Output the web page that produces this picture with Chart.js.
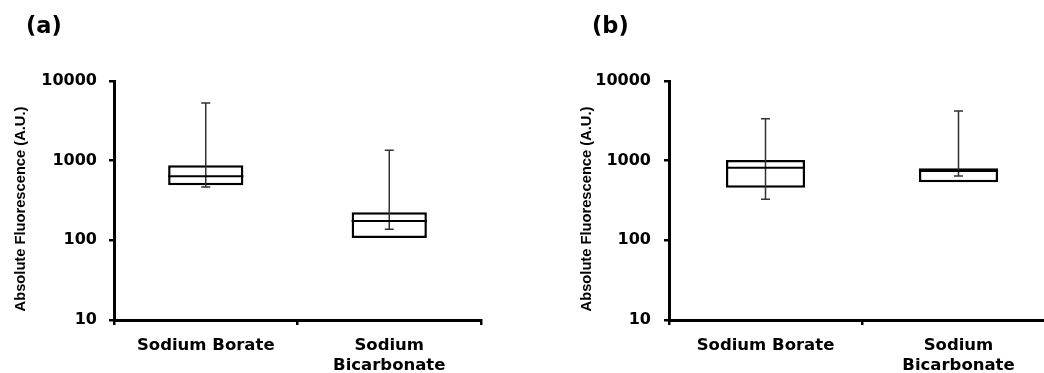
<!DOCTYPE html>
<html>
<head>
<meta charset="utf-8">
<script src="https://cdn.jsdelivr.net/npm/chart.js@4.4.1/dist/chart.umd.min.js"></script>
<style>
  html, body { margin: 0; padding: 0; background: #fff; overflow: hidden; }
  #wrap { position: relative; width: 1044px; height: 373px; overflow: hidden; background: #fff; }
  #ca { position: absolute; left: 0; top: 0; }
  #cb { position: absolute; left: 522px; top: 0; }
</style>
</head>
<body>
<div id="wrap">
  <canvas id="ca" width="522" height="373"></canvas>
  <canvas id="cb" width="560" height="373"></canvas>
</div>
<script>
// ---- data ----
const categories = [['Sodium Borate'], ['Sodium', 'Bicarbonate']];
const yTickValues = [10, 100, 1000, 10000];
const yTickLabels = ['10', '100', '1000', '10000'];
const yAxisTitle = 'Absolute Fluorescence (A.U.)';

// panel (a)
const aMin    = [468, 138];
const aQ1     = [491, 107];
const aMedian = [637, 175];
const aQ3     = [875, 225];
const aMax    = [5300, 1350];

// panel (b)
const bMin    = [328, 643];
const bQ1     = [458, 536];
const bMedian = [817, 743];
const bQ3     = [1020, 803];
const bMax    = [3365, 4206];

Chart.defaults.color = '#000';
Chart.defaults.font.family = '"DejaVu Sans", sans-serif';

const boxPlugin = {
  id: 'boxWhiskers',
  afterDatasetsDraw(chart, args, opts) {
    const ctx = chart.ctx;
    const x = chart.scales.x, y = chart.scales.y;
    const meta = chart.getDatasetMeta(0);
    ctx.save();
    for (let i = 0; i < opts.median.length; i++) {
      const bar = meta.data[i];
      const cx = x.getPixelForValue(i);
      const half = bar.width / 2;
      const yLo = y.getPixelForValue(opts.min[i]);
      const yHi = y.getPixelForValue(opts.max[i]);
      ctx.strokeStyle = '#333';
      ctx.lineWidth = 1.5;
      ctx.beginPath();
      ctx.moveTo(cx, yLo); ctx.lineTo(cx, yHi);
      ctx.moveTo(cx - 4.5, yLo); ctx.lineTo(cx + 4.5, yLo);
      ctx.moveTo(cx - 4.5, yHi); ctx.lineTo(cx + 4.5, yHi);
      ctx.stroke();
      const ym = y.getPixelForValue(opts.median[i]);
      ctx.strokeStyle = '#000';
      ctx.lineWidth = 2;
      ctx.beginPath();
      ctx.moveTo(cx - half, ym); ctx.lineTo(cx + half, ym);
      ctx.stroke();
    }
    ctx.restore();
  }
};

const textPlugin = {
  id: 'panelText',
  afterDraw(chart, args, opts) {
    const ctx = chart.ctx;
    ctx.save();
    ctx.fillStyle = '#000';
    ctx.font = 'bold 22.5px "DejaVu Sans", sans-serif';
    ctx.textAlign = 'left';
    ctx.textBaseline = 'alphabetic';
    ctx.fillText(opts.letter, opts.letterX, 32.5);
    ctx.translate(opts.titleX, 209);
    ctx.rotate(-Math.PI / 2);
    ctx.font = 'bold 14.7px "Liberation Sans", Arial, sans-serif';
    ctx.textAlign = 'center';
    ctx.textBaseline = 'middle';
    ctx.fillText(yAxisTitle, 0, 0);
    ctx.restore();
  }
};

function makeChart(id, q1, q3, med, mn, mx, cfg) {
  const boxes = q1.map((v, i) => [v, q3[i]]);
  return new Chart(document.getElementById(id), {
    type: 'bar',
    data: {
      labels: categories,
      datasets: [{
        data: boxes,
        backgroundColor: '#fff',
        borderColor: '#000',
        borderWidth: 2.5,
        borderSkipped: false,
        barPercentage: 0.41,
        categoryPercentage: 1.0
      }]
    },
    options: {
      responsive: false,
      animation: false,
      events: [],
      layout: { padding: { left: 0, top: 81, right: cfg.padRight, bottom: 0 } },
      plugins: {
        legend: { display: false },
        tooltip: { enabled: false },
        title: { display: false },
        boxWhiskers: { min: mn, max: mx, median: med },
        panelText: { letter: cfg.letter, letterX: cfg.letterX, titleX: cfg.titleX }
      },
      scales: {
        x: {
          type: 'category',
          offset: true,
          grid: { display: true, drawOnChartArea: false, drawTicks: true, tickLength: 5, offset: true, color: '#000', lineWidth: 2.5 },
          border: { display: true, color: '#000', width: 3 },
          ticks: { maxRotation: 0, minRotation: 0, padding: 10, color: '#000', font: { size: 16.5, weight: 'bold', lineHeight: 1.25 } },
          afterFit(scale) { scale.height = 53; }
        },
        y: {
          type: 'logarithmic',
          min: 10,
          max: 10000,
          grid: { display: true, drawOnChartArea: false, drawTicks: true, tickLength: 5, color: '#000', lineWidth: 2.5 },
          border: { display: true, color: '#000', width: 3 },
          ticks: {
            padding: cfg.tickPad,
            color: '#000',
            font: { size: 16, weight: 'bold' },
            callback: (v) => { const k = yTickValues.indexOf(v); return k >= 0 ? yTickLabels[k] : ''; }
          },
          afterBuildTicks(scale) { scale.ticks = yTickValues.map(v => ({ value: v })); },
          afterFit(scale) { scale.width = cfg.yWidth; }
        }
      }
    },
    plugins: [boxPlugin, textPlugin]
  });
}

makeChart('ca', aQ1, aQ3, aMedian, aMin, aMax,
  { letter: '(a)', letterX: 26, titleX: 21, yWidth: 114, padRight: 41, tickPad: 12 });
makeChart('cb', bQ1, bQ3, bMedian, bMin, bMax,
  { letter: '(b)', letterX: 70, titleX: 65, yWidth: 147, padRight: 27, tickPad: 13 });
</script>
</body>
</html>
